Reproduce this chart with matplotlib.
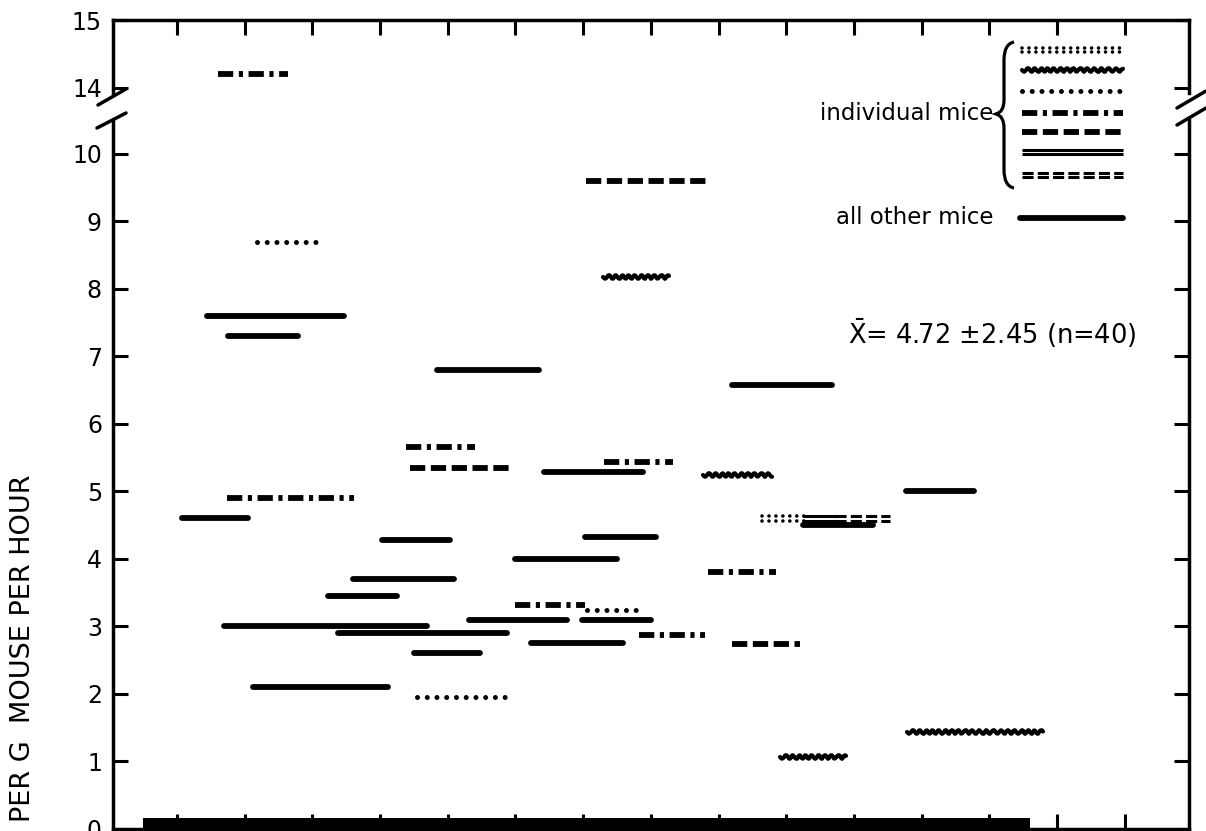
import matplotlib
matplotlib.use('Agg')
import matplotlib.pyplot as plt
import matplotlib.patheffects as pe
from matplotlib.path import Path
from matplotlib.patches import PathPatch

plt.rcParams['font.family'] = ['DejaVu Sans']
plt.rcParams['lines.scale_dashes'] = False
plt.rcParams['mathtext.fontset'] = 'dejavusans'

# ---------------- data ----------------
seg_start = [1.61, 2.18, 1.44, 1.75, 1.74, 1.07, 4.03, 1.69, 2.12, 3.23,
             3.60, 3.38, 4.54, 4.50, 4.84, 4.38, 4.44, 6.42, 7.31, 8.77,
             7.03, 5.99, 5.99, 7.06, 5.31, 6.99, 6.23, 7.82, 9.20, 8.84,
             9.91, 11.78, 7.04, 7.29, 9.20, 11.77, 9.64, 10.25, 10.72, 10.25]
seg_end = [2.64, 3.16, 3.47, 2.79, 3.61, 2.05, 5.03, 4.69, 4.12, 4.25,
           5.09, 5.87, 5.95, 5.48, 6.35, 5.40, 5.93, 7.88, 8.33, 9.79,
           8.08, 7.50, 7.03, 7.87, 6.76, 8.00, 7.59, 8.80, 10.20, 9.85,
           10.88, 13.79, 8.86, 8.27, 10.67, 12.77, 10.28, 10.76, 11.53, 11.28]
seg_value = [14.2, 8.7, 7.6, 7.3, 4.9, 4.6, 4.28, 3.0, 2.1, 3.45,
             3.7, 2.9, 1.95, 2.6, 6.8, 5.65, 5.35, 5.28, 5.43, 5.24,
             4.33, 4.0, 3.31, 3.24, 3.09, 3.09, 2.75, 2.88, 2.74, 3.8,
             1.06, 1.43, 9.59, 8.18, 6.57, 5.0, 4.6, 4.6, 4.6, 4.5]
seg_style = ['dashdot', 'dot', 'solid', 'solid', 'dashdot', 'solid', 'solid', 'solid', 'solid', 'solid',
             'solid', 'solid', 'dot', 'solid', 'solid', 'dashdot', 'dash', 'solid', 'dashdot', 'wavy',
             'solid', 'solid', 'dashdot', 'dot', 'solid', 'solid', 'solid', 'dashdot', 'dash', 'dashdot',
             'wavy', 'wavy', 'dash', 'wavy', 'solid', 'solid', 'ddot', 'dsolid', 'ddash', 'solid']

dark_start, dark_end, dark_height = 0.5, 13.6, 0.16
x_ticks = list(range(1, 16))
y_ticks_low = list(range(0, 11))
y_ticks_high = [14, 15]
legend_styles = ['ddot', 'wavy', 'dot', 'dashdot', 'dash', 'dsolid', 'ddash']
legend_label = 'individual mice'
other_label = 'all other mice'
mean_label = r'$\bar{\mathrm{X}}$= 4.72 $\pm$2.45 (n=40)'
y_label = 'PER G  MOUSE PER HOUR'


def style_kw(s):
    kw = dict(color='black')
    if s == 'solid':
        kw.update(lw=4.2, ls='-', solid_capstyle='round')
    elif s == 'dash':
        kw.update(lw=4.2, ls=(0, (11, 4)), dash_capstyle='butt')
    elif s == 'dashdot':
        kw.update(lw=4.2, ls=(0, (11, 4, 3, 4)), dash_capstyle='butt')
    elif s == 'dot':
        kw.update(lw=3.6, ls=(0, (0.01, 7)), dash_capstyle='round')
    elif s == 'wavy':
        kw.update(lw=3.0, ls='-', solid_capstyle='round')
    elif s == 'ddot':
        kw.update(lw=2.6, ls=(0, (0.01, 5)), dash_capstyle='round',
                  path_effects=[pe.Stroke(offset=(0, 1.6)), pe.Stroke(offset=(0, -1.6))])
    elif s == 'dsolid':
        kw.update(lw=2.2, ls='-', solid_capstyle='butt',
                  path_effects=[pe.Stroke(offset=(0, 1.7)), pe.Stroke(offset=(0, -1.7))])
    elif s == 'ddash':
        kw.update(lw=2.2, ls=(0, (8, 3)), dash_capstyle='butt',
                  path_effects=[pe.Stroke(offset=(0, 1.7)), pe.Stroke(offset=(0, -1.7))])
    return kw


def draw_seg(ax, xs, ys, st):
    ln, = ax.plot(xs, ys, **style_kw(st))
    if st == 'wavy':
        ln.set_sketch_params(1.8, 7, 1.5)
    return ln


W, H = 1206, 831
fig = plt.figure(figsize=(W / 100, H / 100), dpi=100)

x0, x1 = 113, 1189
ax_bot = fig.add_axes([x0 / W, 2 / H, (x1 - x0) / W, (829 - 120) / H])
ax_top = fig.add_axes([x0 / W, (H - 93) / H, (x1 - x0) / W, 73 / H])

for ax in (ax_bot, ax_top):
    ax.set_xlim(0.055, 15.95)
    ax.set_xticks(x_ticks)
    for sp in ax.spines.values():
        sp.set_linewidth(2.5)
    ax.tick_params(direction='in', length=11, width=2.2, labelsize=17, pad=8,
                   left=True, right=True, labelleft=True, labelright=False)

ax_bot.set_ylim(0, 10.5)
ax_bot.set_yticks(y_ticks_low)
ax_bot.spines['top'].set_visible(False)
ax_bot.tick_params(axis='x', bottom=True, top=False, labelbottom=False)

ax_top.set_ylim(13.92, 15)
ax_top.set_yticks(y_ticks_high)
ax_top.spines['bottom'].set_visible(False)
ax_top.tick_params(axis='x', bottom=False, top=True, labelbottom=False, labeltop=False)

# dark period bar
ax_bot.bar(dark_start, dark_height, width=dark_end - dark_start, align='edge',
           color='black', zorder=3)

# segments
for s, e, v, st in zip(seg_start, seg_end, seg_value, seg_style):
    ax = ax_top if v > 12 else ax_bot
    draw_seg(ax, [s, e], [v, v], st)

# overlay in pixel coordinates for legend, break marks, annotations
ov = fig.add_axes([0, 0, 1, 1], facecolor='none')
ov.set_xlim(0, W)
ov.set_ylim(H, 0)
ov.axis('off')

# axis break marks
for (xa, ya, xb, yb) in [(98, 105, 126, 89), (97, 128, 126, 113),
                         (1177, 108, 1206, 91), (1177, 125, 1206, 108)]:
    ov.plot([xa, xb], [ya, yb], color='black', lw=2.5, solid_capstyle='round')

# legend samples
leg_y = [50, 70, 91, 113, 132, 152, 175]
for yy, st in zip(leg_y, legend_styles):
    draw_seg(ov, [1022, 1123], [yy, yy], st)
draw_seg(ov, [1020, 1123], [218, 218], 'solid')

# brace
verts = [(1014, 42), (1004, 44), (1004, 60), (1004, 100), (1004, 112), (996, 114),
         (1004, 116), (1004, 128), (1004, 170), (1004, 186), (1014, 188)]
codes = [Path.MOVETO, Path.CURVE3, Path.CURVE3, Path.LINETO, Path.CURVE3, Path.CURVE3,
         Path.CURVE3, Path.CURVE3, Path.LINETO, Path.CURVE3, Path.CURVE3]
ov.add_patch(PathPatch(Path(verts, codes), fill=False, lw=2.3, color='black'))

ov.text(993, 113, legend_label, ha='right', va='center', fontsize=16.5)
ov.text(993, 218, other_label, ha='right', va='center', fontsize=16.5)
ov.text(848, 333, mean_label, ha='left', va='center', fontsize=18.5)
ov.text(23, 822, y_label, rotation=90, rotation_mode='anchor', ha='left', va='center',
        fontsize=19.5)

fig.savefig('out.png', dpi=100)
